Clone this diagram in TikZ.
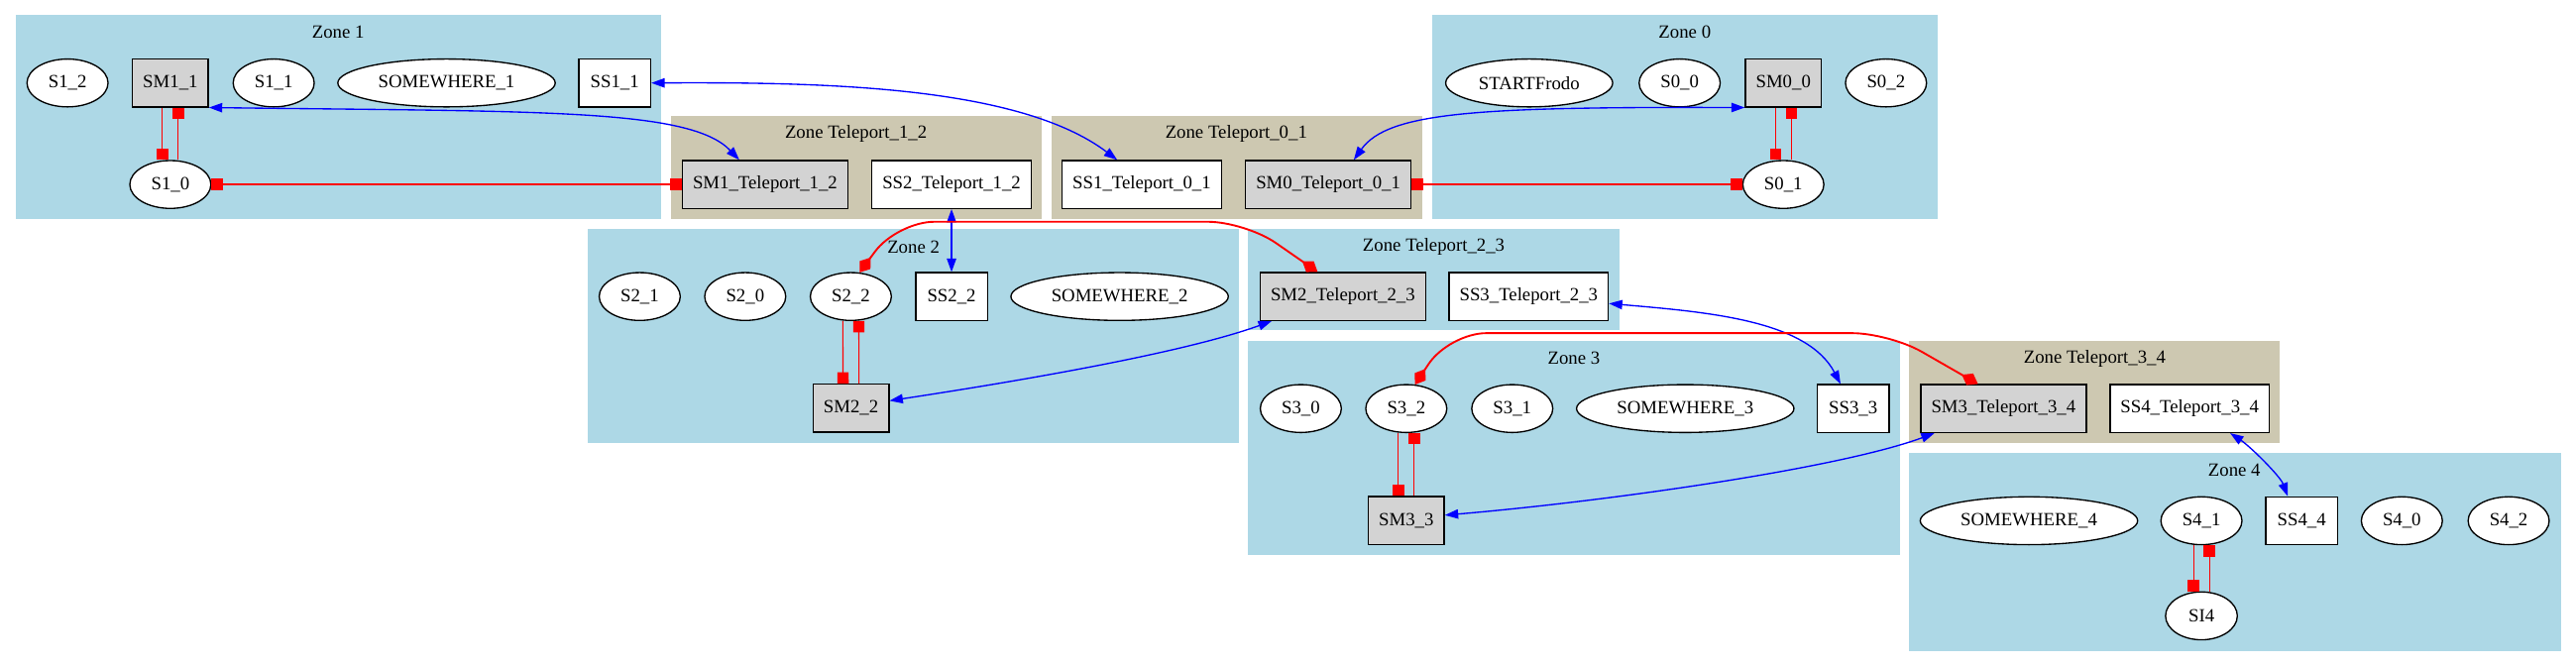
\documentclass[tikz,border=0pt]{standalone}
\usepackage{fontspec}
\setmainfont{Liberation Serif}
\usetikzlibrary{arrows.meta,shapes.geometric}

\definecolor{zoneblue}{HTML}{ADD8E6}
\definecolor{zonetan}{HTML}{CDC8B1}
\definecolor{smgray}{HTML}{D3D3D3}

\tikzset{
  state/.style={ellipse, draw, line width=1pt, fill=white, minimum width=61pt, minimum height=36pt, inner xsep=6.5pt},
  smbox/.style={rectangle, draw, line width=1pt, fill=smgray, minimum width=54pt, minimum height=36pt, inner xsep=7.9pt},
  ssbox/.style={smbox, fill=white},
  zonetitle/.style={inner sep=0pt},
  tele/.style={blue, line width=1pt, {Triangle[length=10pt,width=7pt]}-{Triangle[length=10pt,width=7pt]}},
  link/.style={red, line width=0.8pt, -{Square[length=8.5pt,width=8.5pt]}},
  gate/.style={red, line width=2pt, {Square[length=8.5pt,width=8.5pt]}-{Square[length=8.5pt,width=8.5pt]}},
  jump/.style={red, line width=1.4pt, rounded corners=28pt, {Diamond[length=14pt,width=10pt]}-{Diamond[length=14pt,width=10pt]}}
}

\begin{document}
\begin{tikzpicture}[x=1.236pt, y=-1.236pt, font=\fontsize{14}{16}\selectfont]
\useasboundingbox (0,0) rectangle (1568,405.4);

\fill[zoneblue] (9.4,9) rectangle (402.5,133.1);
\fill[zonetan] (408.3,70.8) rectangle (634,133.1);
\fill[zonetan] (640,70.8) rectangle (866,133.1);
\fill[zoneblue] (871.9,9) rectangle (1179.5,133.1);
\fill[zoneblue] (357.5,139.4) rectangle (754,269.5);
\fill[zoneblue] (759.6,139.4) rectangle (985.8,201);
\fill[zoneblue] (759.6,207.5) rectangle (1156.3,337.9);
\fill[zonetan] (1162,207.5) rectangle (1387.7,269.5);
\fill[zoneblue] (1162,275.5) rectangle (1558.7,396.2);

\node[zonetitle] (z1) at (205.8,19.7) {Zone 1};
\node[zonetitle] (zt12) at (521,81.5) {Zone Teleport\_1\_2};
\node[zonetitle] (zt01) at (752.5,81.5) {Zone Teleport\_0\_1};
\node[zonetitle] (z0) at (1025.5,19.7) {Zone 0};
\node[zonetitle] (z2) at (556,150.2) {Zone 2};
\node[zonetitle] (zt23) at (872.7,150.2) {Zone Teleport\_2\_3};
\node[zonetitle] (z3) at (958,218.2) {Zone 3};
\node[zonetitle] (zt34) at (1275,218.2) {Zone Teleport\_3\_4};
\node[zonetitle] (z4) at (1360,286) {Zone 4};

\node[state] (s1-2) at (41.1,50.5) {S1\_2};
\node[smbox] (sm1-1) at (103.7,50.5) {SM1\_1};
\node[state] (s1-1) at (166.6,50.5) {S1\_1};
\node[state] (sw1) at (271.8,50.5) {SOMEWHERE\_1};
\node[ssbox] (ss1-1) at (374.2,50.5) {SS1\_1};
\node[state] (s1-0) at (103.7,112.3) {S1\_0};

\node[smbox] (sm1t12) at (465.7,112.3) {SM1\_Teleport\_1\_2};
\node[ssbox] (ss2t12) at (579.2,112.3) {SS2\_Teleport\_1\_2};
\node[ssbox] (ss1t01) at (695,112.3) {SS1\_Teleport\_0\_1};
\node[smbox] (sm0t01) at (808.5,112.3) {SM0\_Teleport\_0\_1};

\node[state] (start) at (930.8,50.5) {STARTFrodo};
\node[state] (s0-0) at (1022.4,50.5) {S0\_0};
\node[smbox] (sm0-0) at (1085.5,50.5) {SM0\_0};
\node[state] (s0-2) at (1148,50.5) {S0\_2};
\node[state] (s0-1) at (1085.5,112.3) {S0\_1};

\node[state] (s2-1) at (389.4,180.5) {S2\_1};
\node[state] (s2-0) at (453.6,180.5) {S2\_0};
\node[state] (s2-2) at (517.9,180.5) {S2\_2};
\node[ssbox] (ss2-2) at (579.2,180.5) {SS2\_2};
\node[state] (sw2) at (681.5,180.5) {SOMEWHERE\_2};
\node[smbox] (sm2-2) at (518,248.5) {SM2\_2};

\node[smbox] (sm2t23) at (817.4,180.5) {SM2\_Teleport\_2\_3};
\node[ssbox] (ss3t23) at (930.5,180.5) {SS3\_Teleport\_2\_3};

\node[state] (s3-0) at (791.8,248.7) {S3\_0};
\node[state] (s3-2) at (856,248.7) {S3\_2};
\node[state] (s3-1) at (920.5,248.7) {S3\_1};
\node[state] (sw3) at (1025.8,248.7) {SOMEWHERE\_3};
\node[ssbox] (ss3-3) at (1128,248.7) {SS3\_3};
\node[smbox] (sm3-3) at (856,316.9) {SM3\_3};

\node[smbox] (sm3t34) at (1219.5,248.7) {SM3\_Teleport\_3\_4};
\node[ssbox] (ss4t34) at (1332.8,248.7) {SS4\_Teleport\_3\_4};

\node[state] (sw4) at (1235,317) {SOMEWHERE\_4};
\node[state] (s4-1) at (1340,317) {S4\_1};
\node[ssbox] (ss4-4) at (1401,317) {SS4\_4};
\node[state] (s4-0) at (1462,317) {S4\_0};
\node[state] (s4-2) at (1527,317) {S4\_2};
\node[state, minimum width=54pt] (si4) at (1340,374.9) {SI4};

\foreach \up/\low in {sm1-1/s1-0, sm0-0/s0-1, s2-2/sm2-2, s3-2/sm3-3, s4-1/si4} {
  \draw[link] ([xshift=-6pt]\up.south) -- ([xshift=-6pt]\low.north);
  \draw[link] ([xshift=6pt]\low.north) -- ([xshift=6pt]\up.south);
}

\draw[gate] (s1-0) -- (sm1t12);
\draw[gate] (sm0t01) -- (s0-1);

\draw[tele] (ss1-1.east) .. controls (500,50) and (620,52) .. ([xshift=-18.5pt]ss1t01.north);
\draw[tele] (sm1-1.south east) .. controls (330,68) and (420,66) .. ([xshift=-19.4pt]sm1t12.north);
\draw[tele] ([xshift=19.2pt]sm0t01.north) .. controls (845,68) and (900,65) .. (sm0-0.south west);
\draw[tele] (ss2t12) -- (ss2-2);
\draw[tele] (sm2-2.11) .. controls (620,232) and (720,215) .. ([xshift=-53.6pt]sm2t23.south);
\draw[tele] (ss3t23.-5) .. controls (1040,190) and (1100,195) .. ([xshift=-9.5pt]ss3-3.north);
\draw[tele] (sm3-3.8) .. controls (980,305) and (1120,285) .. ([xshift=-51.9pt]sm3t34.south);
\draw[tele] ([xshift=30.5pt]ss4t34.south) .. controls (1370,272) and (1388,290) .. ([xshift=-10.5pt]ss4-4.north);

\draw[jump] (s2-2.70) -- (546,135) -- (758,135) -- ([xshift=-19pt]sm2t23.north);
\draw[jump] (s3-2.70) -- (882,202.8) -- (1150,202.8) -- ([xshift=-19.2pt]sm3t34.north);
\end{tikzpicture}
\end{document}
